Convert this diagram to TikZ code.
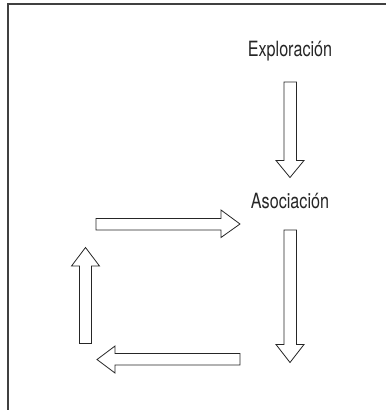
\documentclass[tikz,border=0pt]{standalone}
\usepackage{fontspec}
\setmainfont[FakeStretch=0.77]{TeX Gyre Heros}
\begin{document}
\begin{tikzpicture}[x=1pt,y=-1pt,
  blockarrow/.style={draw=black!85,line width=0.8pt,fill=white,line join=miter},
  lbl/.style={font=\fontsize{21}{25}\selectfont,text=black!85,inner sep=0pt}]
\useasboundingbox (0,0) rectangle (386,410);
\draw[line width=1.2pt,black!75] (8,410) -- (8,4) -- (386,4);
\node[lbl] (expl) at (290,51) {Exploración};
\node[lbl] (asoc) at (290,201) {Asociación};
% down arrow 1
\draw[blockarrow] (284,82) -- (296.5,82) -- (296.5,160.5) -- (304,160.5) -- (290,177.5) -- (276,160.5) -- (284,160.5) -- cycle;
% down arrow 2
\draw[blockarrow] (284,230) -- (296.5,230) -- (296.5,344.5) -- (304,344.5) -- (290,362.5) -- (276,344.5) -- (284,344.5) -- cycle;
% right arrow
\draw[blockarrow] (96,218.5) -- (221,218.5) -- (221,210) -- (240,224) -- (221,237.5) -- (221,230) -- (96,230) -- cycle;
% up arrow
\draw[blockarrow] (79.5,343.5) -- (79.5,266) -- (71.5,266) -- (85.5,247.5) -- (99.5,266) -- (91.5,266) -- (91.5,343.5) -- cycle;
% left arrow
\draw[blockarrow] (240,353.5) -- (115,353.5) -- (115,346) -- (97,359.5) -- (115,373) -- (115,365) -- (240,365) -- cycle;
\end{tikzpicture}
\end{document}
